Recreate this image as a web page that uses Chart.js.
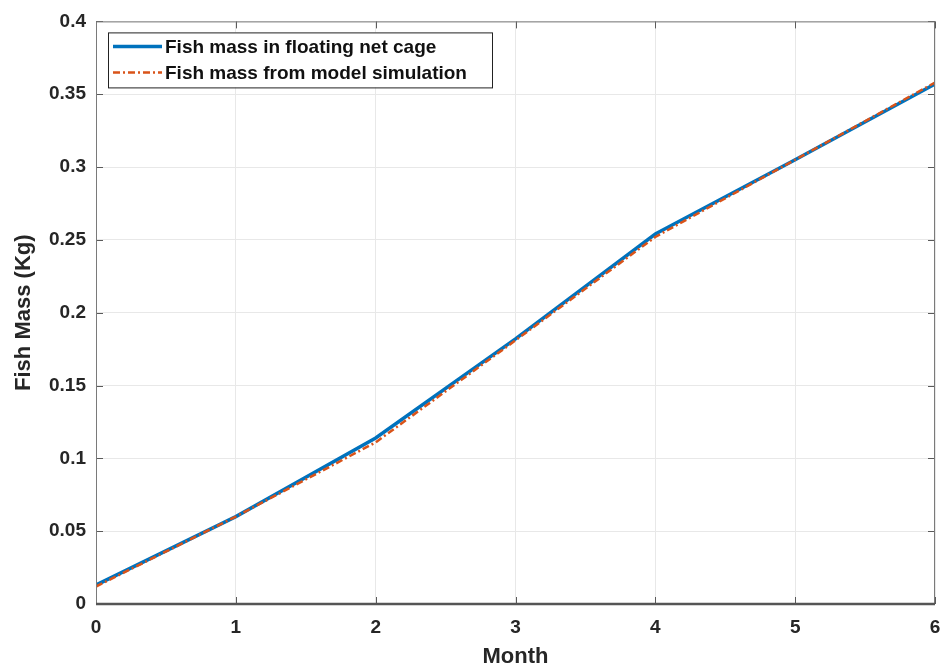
<!DOCTYPE html>
<html>
<head>
<meta charset="utf-8">
<script src="https://cdn.jsdelivr.net/npm/chart.js@4.4.1/dist/chart.umd.min.js"></script>
<style>
  html, body { margin: 0; padding: 0; background: #fff; }
  #wrap { width: 943px; height: 671px; }
</style>
</head>
<body>
<div id="wrap"><canvas id="fishChart" width="943" height="671"></canvas></div>
<script>
// data
const months = [0, 1, 2, 3, 4, 5, 6];
const cageMass = [0.013, 0.060, 0.114, 0.182, 0.254, 0.305, 0.357];
const modelMass = [0.012, 0.060, 0.111, 0.181, 0.252, 0.305, 0.358];
const yTicks = [0, 0.05, 0.1, 0.15, 0.2, 0.25, 0.3, 0.35, 0.4];
const seriesNames = ['Fish mass in floating net cage', 'Fish mass from model simulation'];

const FONT = 'Liberation Sans, Arial, Helvetica, sans-serif';
const INK = '#262626';

const toPoints = (ys) => months.map((m, i) => ({ x: m, y: ys[i] }));

// box, inner ticks and legend like matlab's
const matlabBox = {
    id: 'matlabBox',
    afterDatasetsDraw(chart) {
        const { ctx, chartArea: a, scales } = chart;
        ctx.save();
        ctx.strokeStyle = '#5a5a5a';
        ctx.lineWidth = 1;
        // inner ticks
        const len = 7;
        ctx.beginPath();
        yTicks.forEach(v => {
            const py = Math.round(scales.y.getPixelForValue(v)) + 0.5;
            ctx.moveTo(a.left, py); ctx.lineTo(a.left + len, py);
            ctx.moveTo(a.right, py); ctx.lineTo(a.right - len, py);
        });
        months.forEach(m => {
            const px = Math.round(scales.x.getPixelForValue(m)) + 0.5;
            ctx.moveTo(px, a.bottom); ctx.lineTo(px, a.bottom - len);
            ctx.moveTo(px, a.top); ctx.lineTo(px, a.top + len);
        });
        ctx.stroke();
        // box
        ctx.strokeStyle = '#7a7a7a';
        ctx.strokeRect(a.left + 0.5, a.top + 0.5, a.right - a.left - 1, a.bottom - a.top);
        ctx.strokeStyle = '#555';
        ctx.lineWidth = 2.5;
        ctx.beginPath();
        ctx.moveTo(a.left, a.bottom); ctx.lineTo(a.right, a.bottom);
        ctx.stroke();

        // legend
        const bx = a.left + 12, by = a.top + 11, bw = 384, bh = 55;
        ctx.fillStyle = '#fff';
        ctx.fillRect(bx, by, bw, bh);
        ctx.strokeStyle = '#222';
        ctx.lineWidth = 1;
        ctx.strokeRect(bx + 0.5, by + 0.5, bw, bh);
        ctx.font = 'bold 19px ' + FONT;
        ctx.textBaseline = 'middle';
        chart.data.datasets.forEach((ds, i) => {
            const ry = by + 14 + i * 26;
            ctx.strokeStyle = ds.borderColor;
            ctx.lineWidth = ds.borderWidth;
            ctx.setLineDash(ds.borderDash || []);
            ctx.beginPath();
            ctx.moveTo(bx + 5, ry); ctx.lineTo(bx + 54, ry);
            ctx.stroke();
            ctx.setLineDash([]);
            ctx.fillStyle = '#111';
            ctx.fillText(ds.label, bx + 57, ry + 1);
        });
        ctx.restore();
    }
};

const chartData = {
    datasets: [
        {
            label: seriesNames[0],
            data: toPoints(cageMass),
            borderColor: '#0072BD',
            borderWidth: 3.5,
            pointRadius: 0,
            tension: 0,
            order: 1
        },
        {
            label: seriesNames[1],
            data: toPoints(modelMass),
            borderColor: '#D95319',
            borderWidth: 2.5,
            borderDash: [7, 3, 2, 3],
            pointRadius: 0,
            tension: 0,
            order: 0 // drawn on top of the blue one
        }
    ]
};

const options = {
    responsive: false,
    animation: false,
    layout: { padding: { left: 0, right: 8, top: 20, bottom: 0 } },
    plugins: {
        legend: { display: false },
        tooltip: { enabled: false }
    },
    scales: {
        x: {
            type: 'linear',
            min: 0,
            max: 6,
            afterBuildTicks: (scale) => { scale.ticks = months.map(v => ({ value: v })); },
            afterFit: (scale) => {
                scale.height = 67;
                scale.paddingLeft = 0;
                scale.paddingRight = 0;
            },
            grid: { color: '#e8e8e8', drawTicks: false },
            border: { display: false },
            ticks: {
                color: INK,
                padding: 12,
                font: { family: FONT, size: 19, weight: 'bold' },
                callback: (v) => String(v)
            },
            title: {
                display: true,
                text: 'Month',
                color: INK,
                padding: { top: 0, bottom: 1 },
                font: { family: FONT, size: 22, weight: 'bold' }
            }
        },
        y: {
            min: 0,
            max: 0.4,
            afterBuildTicks: (scale) => { scale.ticks = yTicks.map(v => ({ value: v })); },
            afterFit: (scale) => { scale.width = 96; },
            grid: { color: '#e8e8e8', drawTicks: false },
            border: { display: false },
            ticks: {
                color: INK,
                padding: 10,
                font: { family: FONT, size: 19, weight: 'bold' },
                callback: (v) => String(Math.round(v * 100) / 100)
            },
            title: {
                display: true,
                text: 'Fish Mass (Kg)',
                color: INK,
                padding: { top: 11, bottom: 0 },
                font: { family: FONT, size: 22, weight: 'bold' }
            }
        }
    }
};

const fishChart = new Chart(
    document.getElementById('fishChart'),
    { type: 'line', data: chartData, options: options, plugins: [matlabBox] }
);
</script>
</body>
</html>
